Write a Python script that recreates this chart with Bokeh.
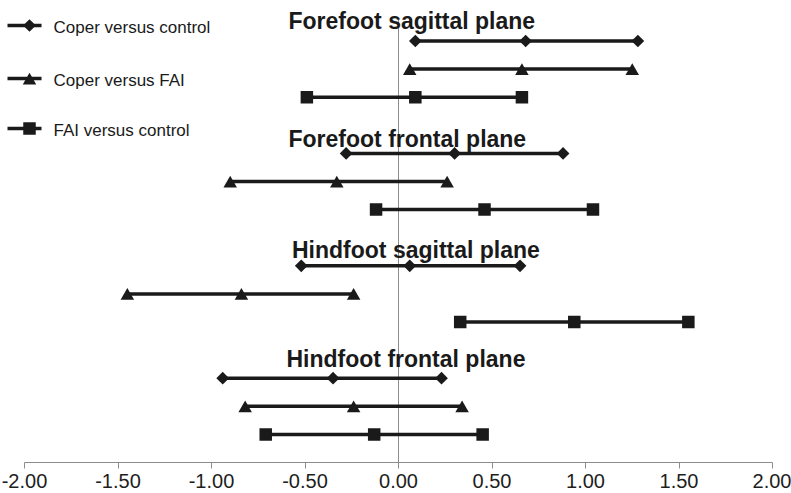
import numpy as np
from bokeh.plotting import figure
from bokeh.models import Range1d, FixedTicker, NumeralTickFormatter
from bokeh.core.properties import value
from bokeh.embed import file_html
from bokeh.resources import INLINE

# ---------------- data ----------------
planes = ["Forefoot sagittal plane", "Forefoot frontal plane",
          "Hindfoot sagittal plane", "Hindfoot frontal plane"]
series_names = ["Coper versus control", "Coper versus FAI", "FAI versus control"]

coper_control_lower = [0.09, -0.28, -0.52, -0.94]
coper_control_mean = [0.68, 0.30, 0.06, -0.35]
coper_control_upper = [1.28, 0.88, 0.65, 0.23]

coper_fai_lower = [0.06, -0.90, -1.45, -0.82]
coper_fai_mean = [0.66, -0.33, -0.84, -0.24]
coper_fai_upper = [1.25, 0.26, -0.24, 0.34]

fai_control_lower = [-0.49, -0.12, 0.33, -0.71]
fai_control_mean = [0.09, 0.46, 0.94, -0.13]
fai_control_upper = [0.66, 1.04, 1.55, 0.45]

x_ticks = [-2.0, -1.5, -1.0, -0.5, 0.0, 0.5, 1.0, 1.5, 2.0]

# ---------------- layout ----------------
W, H = 791, 493
BOTTOM = 31
X0_PX, PX_PER_UNIT = 398.0, 187.0
SLOT0_PX, PX_PER_SLOT = 12.4, 28.1
INK = "#1a1a1a"
GREY = "#8c8c8c"
FONT = "Liberation Sans"


def px_x(px):
    return (px - X0_PX) / PX_PER_UNIT


def px_y(py):
    return (py - SLOT0_PX) / PX_PER_SLOT


p = figure(width=W, height=H,
           x_range=Range1d(px_x(0), px_x(W)),
           y_range=Range1d(px_y(H - BOTTOM), px_y(0)),
           output_backend="svg", toolbar_location=None,
           y_axis_location=None,
           min_border_left=0, min_border_right=0,
           min_border_top=0, min_border_bottom=BOTTOM,
           outline_line_color=None,
           background_fill_color="white", border_fill_color="white")
p.grid.visible = False

ax = p.xaxis[0]
ax.bounds = (-2, 2)
ax.ticker = FixedTicker(ticks=x_ticks, minor_ticks=[])
ax.formatter = NumeralTickFormatter(format="0.00")
ax.axis_line_color = GREY
ax.axis_line_width = 1
ax.major_tick_line_color = GREY
ax.major_tick_out = 6
ax.major_tick_in = 0
ax.minor_tick_line_color = None
ax.major_label_text_font = FONT
ax.major_label_text_font_size = "20px"
ax.major_label_text_color = "#1e1e1e"
ax.major_label_standoff = 5

# zero reference line
p.segment(x0=[0], y0=[px_y(18)], x1=[0], y1=[px_y(H - BOTTOM)],
          line_color=GREY, line_width=1)

# (lower, mean, upper, marker, size, angle, vertical nudge in px so the marker is centred)
series = [
    (coper_control_lower, coper_control_mean, coper_control_upper, "square", 9, np.pi / 4, 0.0),
    (coper_fai_lower, coper_fai_mean, coper_fai_upper, "triangle", 13.5, 0.0, 2.0),
    (fai_control_lower, fai_control_mean, fai_control_upper, "square", 12.5, 0.0, 0.0),
]

legend_px_y = [25, 78, 128]

for si, (lo, mu, up, mk, sz, ang, nudge) in enumerate(series):
    ys = [pi * 4 + si + 1 for pi in range(len(planes))]
    dy = nudge / PX_PER_SLOT
    p.segment(x0=lo, y0=ys, x1=up, y1=ys, line_color=INK, line_width=3.5)
    p.scatter(x=list(lo) + list(mu) + list(up), y=[y + dy for y in ys] * 3,
              marker=mk, size=sz, angle=ang, fill_color=INK, line_color=None)
    # legend entry
    ly = px_y(legend_px_y[si])
    p.segment(x0=[px_x(7)], y0=[ly], x1=[px_x(41)], y1=[ly], line_color=INK, line_width=3.5)
    p.scatter(x=[px_x(29)], y=[ly + dy], marker=mk, size=sz, angle=ang,
              fill_color=INK, line_color=None)

p.text(x=[px_x(53)] * 3, y=[px_y(v + 1.5) for v in legend_px_y], text=series_names,
       text_font=value(FONT), text_font_size=value("17px"), text_color=INK,
       text_align="left", text_baseline="middle")

title_px_x = [288, 288, 291.5, 286]
title_px_base = [20.0, 138, 249, 358.3]
p.text(x=[px_x(v) for v in title_px_x], y=[px_y(v) for v in title_px_base], text=planes,
       text_font=value(FONT), text_font_size=value("23px"), text_font_style="bold",
       text_color=INK, text_align="left", text_baseline="alphabetic")

open("out.html", "w").write(file_html(p, INLINE))
